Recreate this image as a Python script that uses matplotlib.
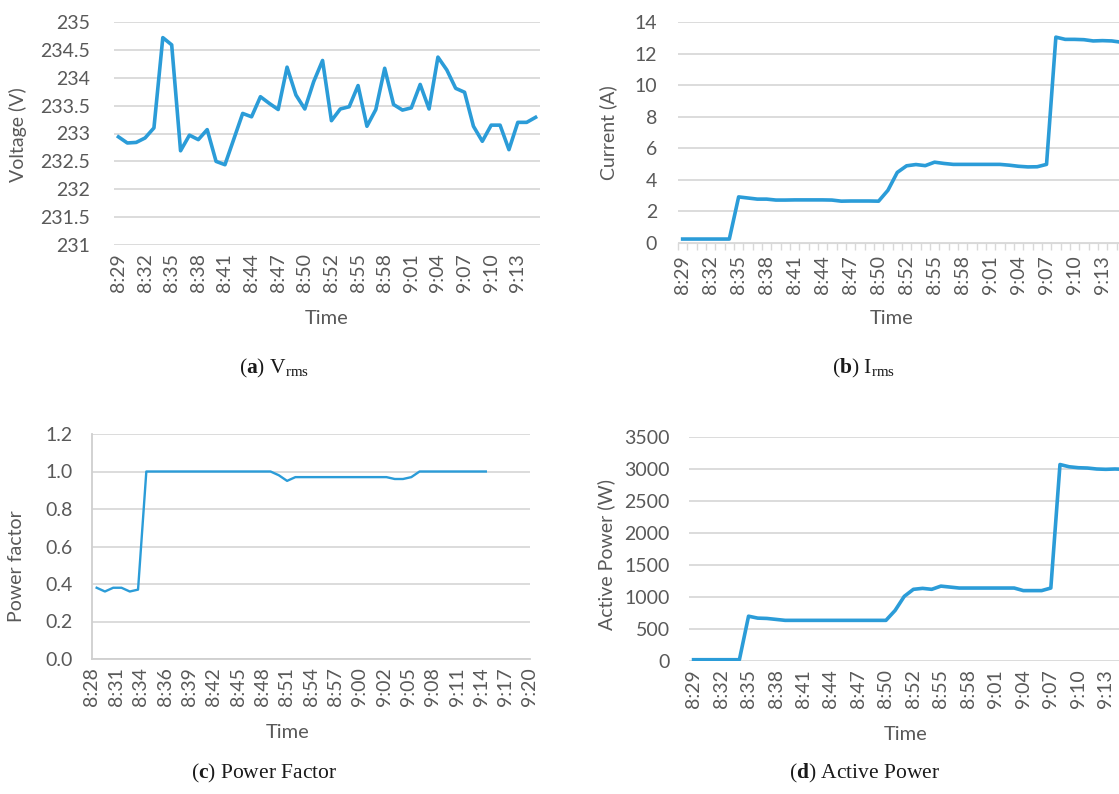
import matplotlib.pyplot as plt
import numpy as np

W, H = 1119, 794
BLUE = '#2b9cd8'
GRID = '#d9d9d9'
TXT = '#595959'

# category labels (every third sample) used by panels a, b, d
cat_labels = ['8:29', '8:32', '8:35', '8:38', '8:41', '8:44', '8:47', '8:50',
              '8:52', '8:55', '8:58', '9:01', '9:04', '9:07', '9:10', '9:13']

voltage = [232.94, 232.83, 232.84, 232.92, 233.10, 234.72, 234.59, 232.69, 232.97, 232.89,
           233.07, 232.50, 232.44, 232.90, 233.36, 233.30, 233.66, 233.54, 233.43, 234.19,
           233.69, 233.44, 233.93, 234.31, 233.23, 233.44, 233.48, 233.86, 233.13, 233.43,
           234.17, 233.52, 233.42, 233.46, 233.88, 233.44, 234.37, 234.14, 233.81, 233.74,
           233.13, 232.86, 233.15, 233.15, 232.71, 233.20, 233.20, 233.29]

current = [0.25, 0.25, 0.25, 0.25, 0.25, 0.25, 2.92, 2.85, 2.78, 2.78,
           2.72, 2.72, 2.73, 2.73, 2.73, 2.73, 2.72, 2.65, 2.66, 2.66,
           2.66, 2.65, 3.34, 4.47, 4.89, 4.97, 4.90, 5.12, 5.04, 4.98,
           4.98, 4.98, 4.98, 4.98, 4.98, 4.93, 4.86, 4.82, 4.83, 4.98,
           13.04, 12.90, 12.90, 12.88, 12.80, 12.82, 12.80, 12.72]

power = [20, 20, 20, 20, 20, 20, 700, 670, 665, 650,
         635, 635, 635, 635, 635, 635, 635, 635, 635, 635,
         635, 635, 790, 1010, 1120, 1135, 1120, 1170, 1155, 1140,
         1140, 1140, 1140, 1140, 1140, 1140, 1100, 1100, 1100, 1140,
         3070, 3035, 3020, 3015, 3000, 2995, 3000, 2995]

pf = [0.38, 0.36, 0.38, 0.38, 0.36, 0.37, 1.0, 1.0, 1.0, 1.0,
      1.0, 1.0, 1.0, 1.0, 1.0, 1.0, 1.0, 1.0, 1.0, 1.0,
      1.0, 1.0, 0.98, 0.95, 0.97, 0.97, 0.97, 0.97, 0.97, 0.97,
      0.97, 0.97, 0.97, 0.97, 0.97, 0.97, 0.96, 0.96, 0.97, 1.0,
      1.0, 1.0, 1.0, 1.0, 1.0, 1.0, 1.0, 1.0]
# power factor chart uses a time axis: minutes after 8:28
pf_t0, pf_step = 0.55, 0.98
pf_labels = ['8:28', '8:31', '8:34', '8:36', '8:39', '8:42', '8:45', '8:48', '8:51', '8:54',
             '8:57', '9:00', '9:02', '9:05', '9:08', '9:11', '9:14', '9:17', '9:20']
pf_major = 2.88  # 0.002 day

plt.rcParams['font.family'] = ['Lato', 'DejaVu Sans']
plt.rcParams['mathtext.fontset'] = 'custom'
plt.rcParams['mathtext.rm'] = 'Liberation Serif'
plt.rcParams['mathtext.bf'] = 'Liberation Serif:bold'

FS = 14
fig = plt.figure(figsize=(W / 100, H / 100), dpi=100)


def axes_px(x0, y0, x1, y1):
    return fig.add_axes([x0 / W, 1 - y1 / H, (x1 - x0) / W, (y1 - y0) / H])


def ftext(x, y, s, **kw):
    fig.text(x / W, 1 - y / H, s, ha='center', va='center', **kw)


def style(ax, ypad):
    for s in ax.spines.values():
        s.set_visible(False)
    ax.yaxis.grid(True, color=GRID, lw=1.3)
    ax.set_axisbelow(True)
    ax.tick_params(axis='y', length=0, pad=ypad, labelsize=FS, labelcolor=TXT)
    ax.tick_params(axis='x', length=0, pad=6, labelsize=FS, labelcolor=TXT, labelrotation=90)


def cat_axis(ax, n):
    ax.set_xlim(-0.5, n - 0.5)
    ax.set_xticks(np.arange(0, n, 3)[:len(cat_labels)])
    ax.set_xticklabels(cat_labels)


n = len(voltage)
idx = np.arange(n)

# (a) voltage
ax = axes_px(114, 22, 540, 245)
style(ax, 17)
ax.plot(idx, voltage, color=BLUE, lw=2.6, solid_joinstyle='round')
ax.set_ylim(231, 235)
vt = np.arange(231, 235.01, 0.5)
ax.set_yticks(vt)
ax.set_yticklabels(['%g' % v for v in vt])
cat_axis(ax, n)
ftext(18, 135, 'Voltage (V)', rotation=90, fontsize=FS, color=TXT)
ftext(327, 318, 'Time', fontsize=FS + 0.5, color=TXT)

# (b) current
ax = axes_px(678, 22, 678 + 48 * 9.33, 243)
style(ax, 15)
ax.plot(idx, current, color=BLUE, lw=2.6, solid_joinstyle='round')
ax.set_ylim(0, 14)
ax.set_yticks(np.arange(0, 15, 2))
cat_axis(ax, n)
ax.spines['bottom'].set_visible(True)
ax.spines['bottom'].set_color(GRID)
ax.set_xticks(np.arange(-0.5, n, 1), minor=True)
ax.tick_params(axis='x', which='minor', length=5, color=GRID, width=1)
ax.tick_params(axis='x', which='major', pad=9)
ftext(608, 133, 'Current (A)', rotation=90, fontsize=FS, color=TXT)
ftext(892, 318, 'Time', fontsize=FS + 0.5, color=TXT)

# (c) power factor
ax = axes_px(92, 434, 530, 659)
style(ax, 14)
pf_t = pf_t0 + pf_step * np.arange(len(pf))
ax.plot(pf_t, pf, color=BLUE, lw=1.7)
ax.set_ylim(0, 1.2)
ax.set_yticks(np.arange(0, 1.21, 0.2))
ax.set_yticklabels(['%.1f' % v for v in np.arange(0, 1.21, 0.2)])
ax.set_xlim(0, pf_major * (len(pf_labels) - 1))
ax.set_xticks(pf_major * np.arange(len(pf_labels)))
ax.set_xticklabels(pf_labels)
for s in ('left', 'bottom'):
    ax.spines[s].set_visible(True)
    ax.spines[s].set_color('#cfcfcf')
    ax.spines[s].set_linewidth(1.3)
ftext(17, 566, 'Power factor', rotation=90, fontsize=FS, color=TXT)
ftext(288, 732, 'Time', fontsize=FS + 0.5, color=TXT)

# (d) active power
ax = axes_px(689, 437, 689 + 48 * 9.16, 661)
style(ax, 14)
ax.plot(idx, power, color=BLUE, lw=2.6, solid_joinstyle='round')
ax.set_ylim(0, 3500)
ax.set_yticks(np.arange(0, 3501, 500))
cat_axis(ax, n)
ftext(606, 554, 'Active Power (W)', rotation=90, fontsize=FS, color=TXT)
ftext(906, 734, 'Time', fontsize=FS + 0.5, color=TXT)

# captions
cap = dict(family='Liberation Serif', fontsize=15.5, color='#1a1a1a')
ftext(274, 368, r'($\mathbf{a}$) V$_{\mathrm{rms}}$', **cap)
ftext(863, 368, r'($\mathbf{b}$) I$_{\mathrm{rms}}$', **cap)
ftext(264, 773, r'($\mathbf{c}$) Power Factor', **cap)
ftext(864, 773, r'($\mathbf{d}$) Active Power', **cap)

fig.savefig('out.png', dpi=100)
